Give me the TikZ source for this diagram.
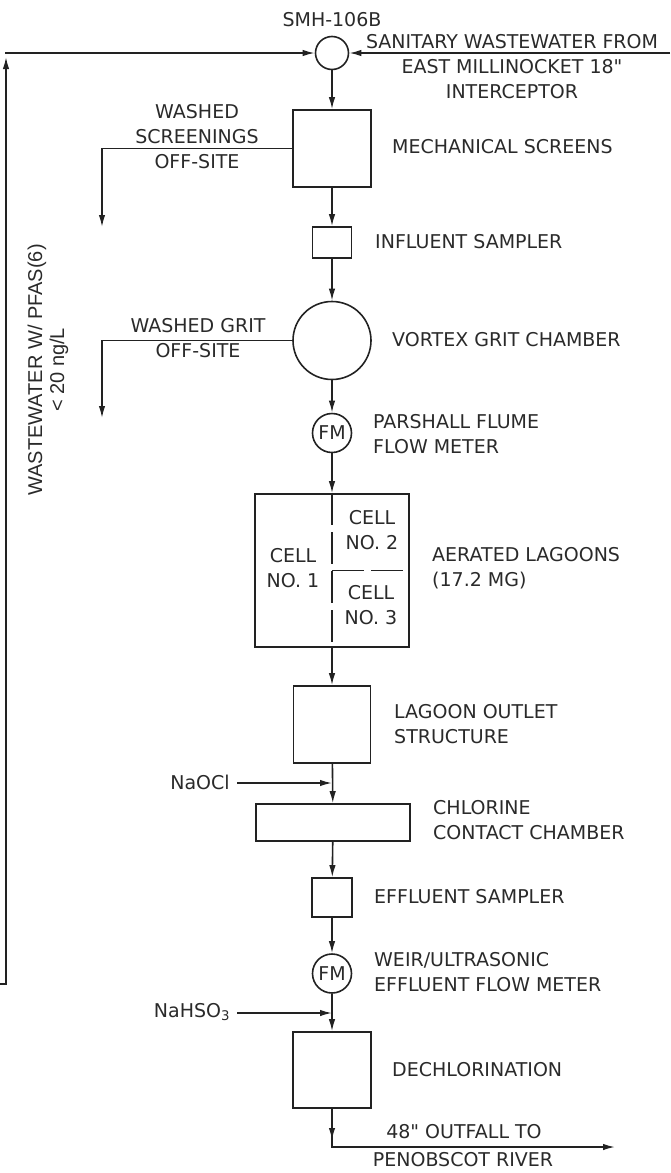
\documentclass[tikz,border=0pt]{standalone}
\usepackage{fontspec}
\setmainfont{DejaVu Sans}
\newfontfamily\arialf{Liberation Sans}
\usetikzlibrary{arrows.meta}
\definecolor{ink}{HTML}{222222}
\definecolor{txt}{HTML}{2A2A2A}
\begin{document}
\begin{tikzpicture}[x=1pt,y=-1pt,
  every node/.style={text=txt},
  box/.style={draw=ink, line width=1.6pt, inner sep=0pt, shape=rectangle},
  circ/.style={draw=ink, line width=1.6pt, inner sep=0pt, shape=circle},
  lbl/.style={anchor=west, align=left, inner sep=0pt, font=\fontsize{19}{25}\selectfont},
  ctext/.style={align=center, inner sep=0pt, font=\fontsize{19}{25}\selectfont},
  flow/.style={draw=ink, line width=1.6pt, -{Latex[length=12pt,width=6.5pt]}},
  celldash/.style={draw=ink, line width=1.6pt, dash pattern=on 32pt off 7pt}]
\useasboundingbox (0,0) rectangle (670,1173);

% process units
\node[circ, minimum size=33pt] (smh) at (332,53) {};
\node[box, minimum width=78pt, minimum height=77pt] (screens) at (332,148.5) {};
\node[box, minimum width=39pt, minimum height=31pt] (inf) at (332,242.5) {};
\node[circ, minimum size=78pt] (vortex) at (332,340.5) {};
\node[circ, minimum size=39pt, font=\fontsize{19}{22}\selectfont] (fm1) at (332,433) {FM};
\node[box, minimum width=154pt, minimum height=153pt] (lagoon) at (332,570.5) {};
\node[box, minimum width=77pt, minimum height=77pt] (outlet) at (332,724.5) {};
\node[box, minimum width=154pt, minimum height=37pt] (chlor) at (333,822.5) {};
\node[box, minimum width=40pt, minimum height=39pt] (eff) at (332,897.5) {};
\node[circ, minimum size=39pt, font=\fontsize{19}{22}\selectfont] (fm2) at (332,973.5) {FM};
\node[box, minimum width=78pt, minimum height=76pt] (dechl) at (332,1070) {};

% lagoon internal dashed walls
\draw[celldash] (lagoon.north) -- (lagoon.south);
\draw[celldash] (lagoon.center) -- (lagoon.east);
\node[ctext] (c1) at (293,568) {CELL\\NO. 1};
\node[ctext] (c2) at (372,530.5) {CELL\\NO. 2};
\node[ctext] (c3) at (371,605.5) {CELL\\NO. 3};

% main flow
\draw[flow] (smh) -- (screens);
\draw[flow] (screens) -- (inf);
\draw[flow] (inf) -- (vortex);
\draw[flow] (vortex) -- (fm1);
\draw[flow] (fm1) -- (lagoon);
\draw[flow] (lagoon) -- (outlet);
\draw[flow] (outlet) -- (chlor);
\draw[flow] (chlor) -- (eff);
\draw[flow] (eff) -- (fm2);
\draw[flow] (fm2) -- (dechl);

% inflows at SMH-106B
\node[ctext] (smhlbl) at (332,20) {SMH-106B};
\coordinate (rin) at (670,53);
\draw[flow] (rin) -- (smh.east);
\node[ctext] (sanlbl) at (512,67) {SANITARY WASTEWATER FROM\\EAST MILLINOCKET 18\textquotedbl\\INTERCEPTOR};

% recycle loop on the left
\coordinate (lstub) at (0,984);
\coordinate (lcorner) at (6,984);
\coordinate (ltip) at (6,57);
\coordinate (ltop) at (5,53);
\draw[flow] (lstub) -- (lcorner) -- (ltip);
\draw[flow] (ltop) -- (smh.west);
\node[rotate=90, align=center, inner sep=0pt, font=\arialf\fontsize{20}{22}\selectfont] (pfas) at (48,370) {WASTEWATER W/ PFAS(6)\\< 20 ng/L};

% side streams
\coordinate (wsend) at (102,227);
\draw[flow] (screens.west) -| (wsend);
\node[ctext] (wslbl) at (197,137) {WASHED\\SCREENINGS\\OFF-SITE};
\coordinate (wgend) at (102,418);
\draw[flow] (vortex.west) -| (wgend);
\node[ctext] (wglbl) at (198,338.5) {WASHED GRIT\\OFF-SITE};

% chemicals
\node[ctext] (naocl) at (200,782) {NaOCl};
\coordinate (naoclend) at (332,783);
\coordinate (naoclst) at (237,783);
\draw[flow] (naoclst) -- (naoclend);
\node[ctext] (nahso) at (192,1012) {NaHSO\textsubscript{3}};
\coordinate (nahsoend) at (332,1013);
\coordinate (nahsost) at (237,1013);
\draw[flow] (nahsost) -- (nahsoend);

% outfall
\coordinate (otip) at (332,1140);
\coordinate (ocorner) at (332,1147);
\coordinate (oend) at (615,1147);
\draw[flow] (dechl.south) -- (otip);
\draw[flow] (dechl.south) -- (ocorner) -- (oend);
\node[ctext] (outlbl) at (464,1132) {48\textquotedbl{} OUTFALL TO};
\node[ctext] (outlbl2) at (463,1160) {PENOBSCOT RIVER};

% labels
\node[lbl] (l1) at (392,147) {MECHANICAL SCREENS};
\node[lbl] (l2) at (375,242) {INFLUENT SAMPLER};
\node[lbl] (l3) at (392,340) {VORTEX GRIT CHAMBER};
\node[lbl] (l4) at (373,434.5) {PARSHALL FLUME\\FLOW METER};
\node[lbl] (l5) at (432,568.5) {AERATED LAGOONS\\(17.2 MG)};
\node[lbl] (l6) at (394,724.5) {LAGOON OUTLET\\STRUCTURE};
\node[lbl] (l7) at (433,820) {CHLORINE\\CONTACT CHAMBER};
\node[lbl] (l8) at (374,897) {EFFLUENT SAMPLER};
\node[lbl] (l9) at (374,972.5) {WEIR/ULTRASONIC\\EFFLUENT FLOW METER};
\node[lbl] (l10) at (392,1070) {DECHLORINATION};
\end{tikzpicture}
\end{document}
